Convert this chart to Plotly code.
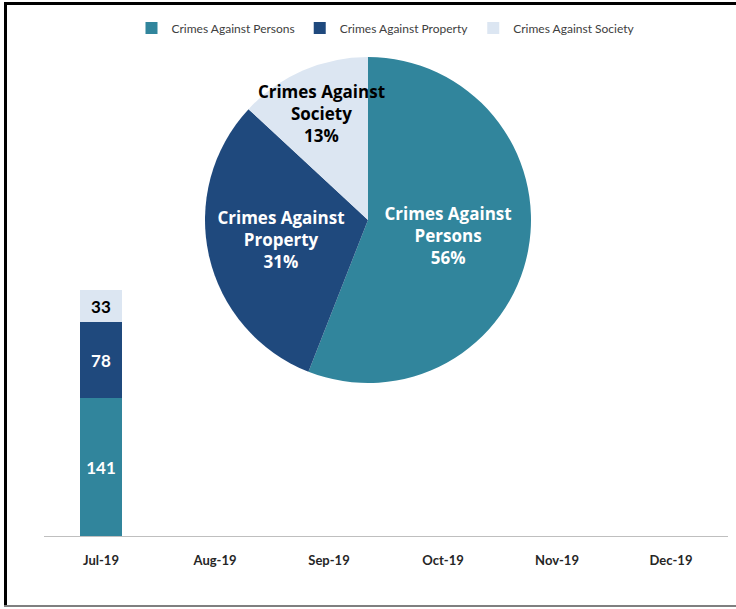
import plotly.graph_objects as go

months = ["Jul-19", "Aug-19", "Sep-19", "Oct-19", "Nov-19", "Dec-19"]
categories = ["Crimes Against Persons", "Crimes Against Property", "Crimes Against Society"]
persons = [141, None, None, None, None, None]
property_ = [78, None, None, None, None, None]
society = [33, None, None, None, None, None]
pie_values = [141, 78, 33]

colors = ["#31859C", "#1F497D", "#DCE6F2"]
text_colors = ["white", "white", "black"]

W, H = 736, 609
ml, mr, mt, mb = 44, 8, 48, 73
pw, ph = W - ml - mr, H - mt - mb

def px2x(px):
    return (px - ml) / pw

def py2y(py):
    return (H - mb - py) / ph

fig = go.Figure()
for name, vals, c, tc in zip(categories, [persons, property_, society], colors, text_colors):
    fig.add_trace(go.Bar(
        x=months, y=vals, name=name, marker=dict(color=c, line=dict(width=0)),
        width=0.37,
        text=[str(v) if v is not None else "" for v in vals],
        textposition="inside", insidetextanchor="middle",
        textfont=dict(family="Lato", size=14, color=tc),
        texttemplate="<b>%{text}</b>",
        hoverinfo="skip",
    ))

pie_text = [c.replace("Against ", "Against<br>") for c in categories]
fig.add_trace(go.Pie(
    labels=categories, values=pie_values, sort=False, direction="clockwise",
    rotation=0, text=pie_text,
    marker=dict(colors=colors, line=dict(color="white", width=0)),
    texttemplate="<b>%{text}<br>%{percent:.0%}</b>",
    textposition="inside", insidetextorientation="horizontal",
    textfont=dict(family="Open Sans", size=17, color=text_colors),
    showlegend=False, hoverinfo="skip",
    domain=dict(x=[px2x(188), px2x(548)], y=[py2y(383), py2y(57)]),
))

fig.update_layout(
    width=W, height=H,
    margin=dict(l=ml, r=mr, t=mt, b=mb),
    barmode="stack",
    paper_bgcolor="white", plot_bgcolor="white",
    uniformtext=dict(minsize=17, mode="show"),
    legend=dict(orientation="h", x=0.5, xanchor="center", y=py2y(28), yanchor="middle",
                font=dict(family="Lato", size=12, color="#404040"),
                itemwidth=30, traceorder="normal"),
    xaxis=dict(showline=True, linecolor="#BFBFBF", linewidth=1, showgrid=False,
               ticks="", ticklabelstandoff=12,
               tickfont=dict(family="Lato", size=13, color="#262626"),
               tickprefix="<b>", ticksuffix="</b>"),
    yaxis=dict(visible=False, range=[0, 500], showgrid=False),
    shapes=[
        dict(type="rect", xref="paper", yref="paper", x0=px2x(4), x1=px2x(736),
             y0=py2y(2), y1=py2y(5), fillcolor="black", line=dict(width=0), layer="above"),
        dict(type="rect", xref="paper", yref="paper", x0=px2x(4), x1=px2x(7),
             y0=py2y(2), y1=py2y(607), fillcolor="black", line=dict(width=0), layer="above"),
        dict(type="line", xref="paper", yref="paper", x0=px2x(4), x1=px2x(736),
             y0=py2y(606), y1=py2y(606), line=dict(color="#7F7F7F", width=2)),
    ],
)

fig.write_html("out.html", config={"displayModeBar": False},
               post_script="document.body.style.margin='0';")
